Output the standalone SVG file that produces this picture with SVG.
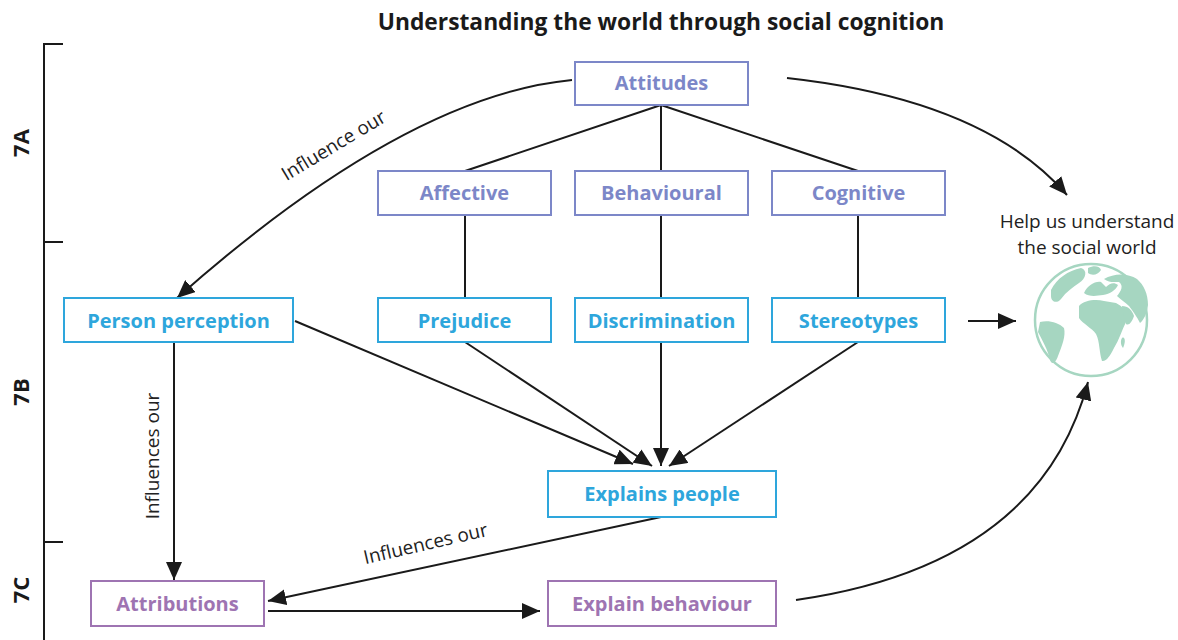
<svg xmlns="http://www.w3.org/2000/svg" width="1178" height="640" viewBox="0 0 1178 640">
  <style>
    .title { font-family: "Open Sans", "Noto Sans", sans-serif; font-weight: 700; font-size: 22.8px; fill: #1a1a1a; }
    .sec { font-family: "Open Sans", "Noto Sans", sans-serif; font-weight: 700; font-size: 22px; fill: #1a1a1a; }
    .box { fill: #ffffff; stroke-width: 2; }
    .att rect { stroke: #7c87c8; }
    .att text { fill: #7c87c8; }
    .per rect { stroke: #2ea6dc; }
    .per text { fill: #2ea6dc; }
    .beh rect { stroke: #9e74b2; }
    .beh text { fill: #9e74b2; }
    .lbl { font-family: "Open Sans", "Noto Sans", sans-serif; font-weight: 700; font-size: 20px; text-anchor: middle; }
    .note { font-family: "Open Sans", "Noto Sans", sans-serif; font-size: 19px; fill: #222222; }
    .edge { fill: none; stroke: #1a1a1a; stroke-width: 2; }
    .arr { marker-end: url(#head); }
    .bracket { fill: none; stroke: #1a1a1a; stroke-width: 2; }
  </style>
  <defs>
    <marker id="head" markerUnits="userSpaceOnUse" markerWidth="20" markerHeight="16" refX="18" refY="8" orient="auto">
      <path d="M0,0 L18,8 L0,16 Z" fill="#1a1a1a"/>
    </marker>
  </defs>

  <rect width="1178" height="640" fill="#ffffff"/>

  <!-- heading -->
  <text class="title" x="661" y="30" text-anchor="middle">Understanding the world through social cognition</text>

  <!-- chapter bracket -->
  <g id="sections">
    <path class="bracket" d="M63,44 H44 V640 M44,242 H63 M44,542 H63"/>
    <text class="sec" transform="translate(29,143) rotate(-90)" text-anchor="middle">7A</text>
    <text class="sec" transform="translate(29,392) rotate(-90)" text-anchor="middle">7B</text>
    <text class="sec" transform="translate(29,590) rotate(-90)" text-anchor="middle">7C</text>
  </g>

  <!-- connectors -->
  <g id="connectors">
    <path class="edge" d="M661,105 L465,171 M661,105 L661,171 M661,105 L858,171"/>
    <path class="edge" d="M465,215 V298 M661,215 V298 M858,215 V298"/>
    <path class="edge arr" d="M295,321 L633,464"/>
    <path class="edge arr" d="M465,342 L652,466"/>
    <path class="edge arr" d="M661,342 L661,466"/>
    <path class="edge arr" d="M858,342 L669,466"/>
    <path class="edge arr" d="M174,342 V580"/>
    <path class="edge arr" d="M661,517 L268,601"/>
    <path class="edge arr" d="M268,611 H540"/>
    <path class="edge arr" d="M968,321 H1016"/>
    <path class="edge arr" d="M572,80 Q405,96 177,298"/>
    <path class="edge arr" d="M787,78 Q985,100 1067,195"/>
    <path class="edge arr" d="M796,600 Q1040,565 1088,382"/>
    <text class="note" transform="translate(337,151) rotate(-31)" text-anchor="middle">Influence our</text>
    <text class="note" transform="translate(159,456) rotate(-90)" text-anchor="middle">Influences our</text>
    <text class="note" transform="translate(427,550) rotate(-13)" text-anchor="middle">Influences our</text>
  </g>

  <!-- attitude nodes -->
  <g id="attitudes" class="att">
    <rect class="box" x="575" y="62" width="173" height="43"/>
    <text class="lbl" x="661.5" y="90">Attitudes</text>
  </g>
  <g id="affective" class="att">
    <rect class="box" x="378" y="171" width="173" height="44"/>
    <text class="lbl" x="464.5" y="200">Affective</text>
  </g>
  <g id="behavioural" class="att">
    <rect class="box" x="575" y="171" width="173" height="44"/>
    <text class="lbl" x="661.5" y="200">Behavioural</text>
  </g>
  <g id="cognitive" class="att">
    <rect class="box" x="772" y="171" width="173" height="44"/>
    <text class="lbl" x="858.5" y="200">Cognitive</text>
  </g>

  <!-- perception nodes -->
  <g id="person-perception" class="per">
    <rect class="box" x="64" y="298" width="229" height="44"/>
    <text class="lbl" x="178.5" y="328">Person perception</text>
  </g>
  <g id="prejudice" class="per">
    <rect class="box" x="378" y="298" width="173" height="44"/>
    <text class="lbl" x="464.5" y="328">Prejudice</text>
  </g>
  <g id="discrimination" class="per">
    <rect class="box" x="575" y="298" width="173" height="44"/>
    <text class="lbl" x="661.5" y="328">Discrimination</text>
  </g>
  <g id="stereotypes" class="per">
    <rect class="box" x="772" y="298" width="173" height="44"/>
    <text class="lbl" x="858.5" y="328">Stereotypes</text>
  </g>
  <g id="explains-people" class="per">
    <rect class="box" x="548" y="471" width="228" height="46"/>
    <text class="lbl" x="662" y="501">Explains people</text>
  </g>

  <!-- behaviour nodes -->
  <g id="attributions" class="beh">
    <rect class="box" x="91" y="581" width="173" height="45"/>
    <text class="lbl" x="177.5" y="611">Attributions</text>
  </g>
  <g id="explain-behaviour" class="beh">
    <rect class="box" x="548" y="581" width="228" height="45"/>
    <text class="lbl" x="662" y="611">Explain behaviour</text>
  </g>

  <!-- world -->
  <g id="social-world">
    <text class="note" x="1087" y="228" text-anchor="middle">Help us understand</text>
    <text class="note" x="1087" y="254" text-anchor="middle">the social world</text>
    <g fill="#a6d6c1">
      <circle cx="1091" cy="320" r="56" fill="none" stroke="#a6d6c1" stroke-width="2.5"/>
      <!-- Africa -->
      <path d="M1079,306 C1084,300 1096,299 1104,301 L1116,303 C1122,306 1126,310 1128,315 L1126,322 C1122,330 1119,340 1114,348 C1110,356 1106,362 1102,361 C1099,352 1100,342 1096,334 C1092,328 1083,324 1079,318 Z"/>
      <!-- Europe -->
      <path d="M1084,293 C1088,285 1095,281 1101,282 L1106,287 C1110,283 1114,282 1118,285 C1116,290 1110,294 1103,295 C1096,296 1089,297 1084,293 Z"/>
      <!-- Asia -->
      <path d="M1104,279 C1114,273 1128,273 1137,279 C1144,285 1148,294 1148,305 C1147,313 1144,320 1140,323 C1137,317 1133,311 1129,306 C1125,302 1120,299 1117,296 C1121,291 1124,286 1119,282 C1114,282 1109,283 1104,279 Z"/>
      <!-- Arabia and India -->
      <path d="M1122,306 C1128,306 1132,310 1134,316 C1132,322 1129,326 1126,324 C1124,318 1122,312 1122,306 Z"/>
      <!-- North America -->
      <path d="M1051,290 C1057,278 1068,271 1081,268 C1088,270 1086,279 1079,283 C1073,287 1066,292 1061,299 C1057,304 1051,302 1051,296 Z"/>
      <!-- Greenland -->
      <path d="M1088,268 C1094,265 1100,266 1101,270 C1098,275 1092,276 1088,273 Z"/>
      <!-- South America -->
      <path d="M1040,322 C1048,320 1058,322 1064,328 C1066,336 1062,346 1058,356 C1056,362 1052,366 1050,360 C1048,350 1042,340 1038,332 Z"/>
      <!-- Madagascar -->
      <path d="M1122,338 C1125,336 1126,342 1123,348 C1121,346 1120,341 1122,338 Z"/>
    </g>
  </g>
</svg>
